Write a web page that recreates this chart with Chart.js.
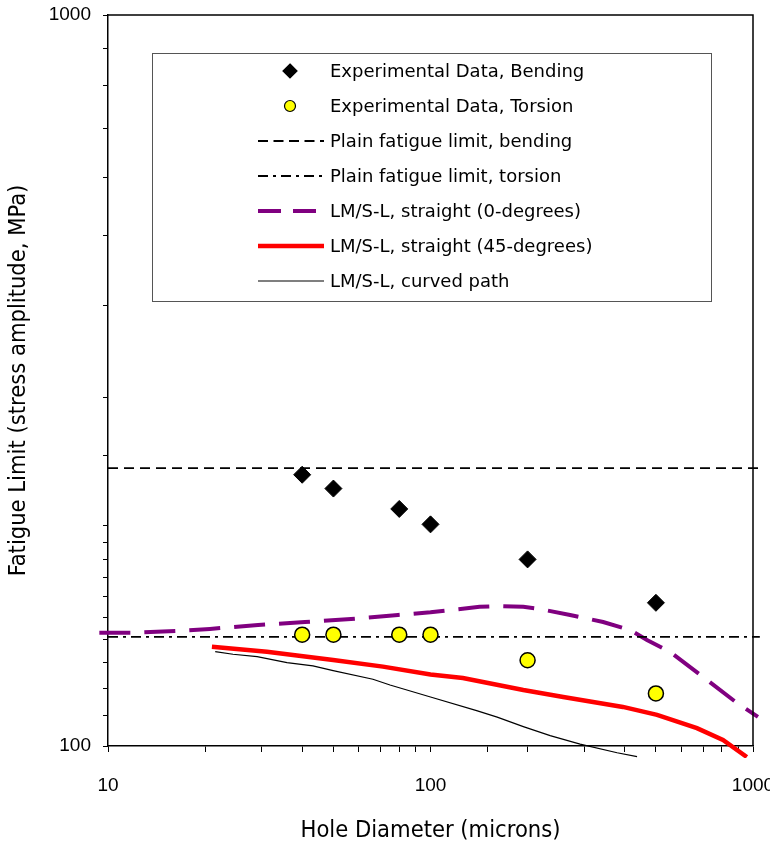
<!DOCTYPE html>
<html>
<head>
<meta charset="utf-8">
<script src="https://cdn.jsdelivr.net/npm/chart.js@4/dist/chart.umd.min.js"></script>
<style>
  html, body { margin: 0; padding: 0; background: #fff; }
  #wrap { width: 770px; height: 845px; position: relative; }
</style>
</head>
<body>
<div id="wrap"><canvas id="chart"></canvas></div>
<script>
// hole diameter (microns) vs fatigue limit (MPa)
const bendX = [40, 50, 80, 100, 200, 500];
const bendY = [235, 225, 211, 201, 180, 157];
const torsX = [40, 50, 80, 100, 200, 500];
const torsY = [142, 142, 142, 142, 131, 118];

const limitX = [10, 1050];
const limitBend = [240, 240];
const limitTors = [141, 141];

const zeroX = [9.4, 12.3, 17.1, 20.7, 29.2, 40.8, 56.7, 79.3, 100, 142, 164, 194, 219, 271, 343, 416, 469, 553, 700, 892, 1036];
const zeroY = [142.9, 142.9, 143.8, 144.6, 146.4, 147.8, 149.2, 151.1, 152.4, 155.0, 155.4, 155.0, 153.9, 151.1, 147.8, 144.1, 139.6, 134.5, 124.3, 114.5, 109.6];

const fortyX = [21.0, 31.1, 49.9, 71.2, 100, 126, 194, 258, 395, 504, 670, 807, 957];
const fortyY = [136.7, 134.6, 131.1, 128.4, 125.3, 123.9, 119.3, 116.7, 113.1, 110.3, 105.8, 101.9, 96.6];

const curvedX = [21.5, 24.4, 29.0, 35.9, 43.2, 49.9, 66.3, 74.9, 100, 139, 161, 194, 235, 291, 379, 437];
const curvedY = [134.6, 133.5, 132.5, 130.0, 128.7, 126.8, 123.4, 121.2, 116.7, 111.8, 109.5, 106.3, 103.3, 100.6, 97.9, 96.7];

const xTickLabels = [10, 100, 1000];
const yTickLabels = [100, 1000];

function pts(xs, ys) {
  return xs.map(function (x, i) { return { x: x, y: ys[i] }; });
}

const overflow = { left: 10, top: 0, right: 12, bottom: 12 };
const titleFont = { family: "DejaVu Sans Condensed", size: 23.5 };
const tickFont = { family: "Liberation Sans", size: 19 };

// legend box drawn inside the plot, like the original
const boxLegend = {
  id: "boxLegend",
  afterDraw: function (chart) {
    const ctx = chart.ctx;
    ctx.save();
    ctx.fillStyle = "#fff";
    ctx.fillRect(152, 53, 560, 249);
    ctx.strokeStyle = "#555";
    ctx.lineWidth = 1;
    ctx.strokeRect(152.5, 53.5, 559, 248);
    ctx.font = "18px 'DejaVu Sans'";
    ctx.textBaseline = "middle";
    chart.data.datasets.forEach(function (ds, i) {
      const y = 71 + i * 35;
      if (ds.showLine === false) {
        ctx.beginPath();
        ctx.fillStyle = ds.backgroundColor;
        ctx.strokeStyle = ds.borderColor;
        ctx.lineWidth = 1.2;
        if (ds.pointStyle === "rectRot") {
          ctx.moveTo(290, y - 7); ctx.lineTo(297, y); ctx.lineTo(290, y + 7); ctx.lineTo(283, y);
          ctx.closePath();
        } else {
          ctx.arc(290, y, 5.5, 0, Math.PI * 2);
        }
        ctx.fill();
        ctx.stroke();
      } else {
        ctx.beginPath();
        ctx.strokeStyle = ds.borderColor;
        ctx.lineWidth = ds.borderWidth;
        ctx.setLineDash(ds.legendDash || []);
        ctx.moveTo(258, y);
        ctx.lineTo(324, y);
        ctx.stroke();
        ctx.setLineDash([]);
      }
      ctx.fillStyle = "#000";
      ctx.fillText(ds.label, 330, y + 1);
    });
    // frame top and right
    const a = chart.chartArea;
    ctx.strokeStyle = "#000";
    ctx.lineWidth = 1.5;
    ctx.beginPath();
    ctx.moveTo(a.left, a.top); ctx.lineTo(a.right, a.top); ctx.lineTo(a.right, a.bottom);
    ctx.stroke();
    ctx.restore();
  }
};

new Chart(document.getElementById("chart"), {
  type: "scatter",
  data: {
    datasets: [
      {
        label: "Experimental Data, Bending",
        data: pts(bendX, bendY),
        showLine: false,
        pointStyle: "rectRot",
        pointRadius: 8.5,
        backgroundColor: "#000",
        borderColor: "#000",
        borderWidth: 1,
        order: 0
      },
      {
        label: "Experimental Data, Torsion",
        data: pts(torsX, torsY),
        showLine: false,
        pointStyle: "circle",
        pointRadius: 7.5,
        backgroundColor: "#ffff00",
        borderColor: "#000",
        borderWidth: 1.5,
        order: 0
      },
      {
        label: "Plain fatigue limit, bending",
        data: pts(limitX, limitBend),
        showLine: true,
        pointRadius: 0,
        borderColor: "#000",
        borderWidth: 1.8,
        borderDash: [10, 6],
        legendDash: [10, 5.5],
        clip: overflow,
        order: 1
      },
      {
        label: "Plain fatigue limit, torsion",
        data: pts(limitX, limitTors),
        showLine: true,
        pointRadius: 0,
        borderColor: "#000",
        borderWidth: 1.8,
        borderDash: [10, 5, 3, 5],
        legendDash: [10, 5, 3, 5],
        clip: overflow,
        order: 1
      },
      {
        label: "LM/S-L, straight (0-degrees)",
        data: pts(zeroX, zeroY),
        showLine: true,
        pointRadius: 0,
        borderColor: "#800080",
        borderWidth: 4,
        borderDash: [31, 14],
        legendDash: [23, 12],
        clip: overflow,
        order: 1
      },
      {
        label: "LM/S-L, straight (45-degrees)",
        data: pts(fortyX, fortyY),
        showLine: true,
        pointRadius: 0,
        borderColor: "#ff0000",
        borderWidth: 4.5,
        clip: overflow,
        order: 1
      },
      {
        label: "LM/S-L, curved path",
        data: pts(curvedX, curvedY),
        showLine: true,
        pointRadius: 0,
        borderColor: "#000",
        borderWidth: 1.2,
        clip: overflow,
        order: 1
      }
    ]
  },
  options: {
    responsive: true,
    maintainAspectRatio: false,
    animation: false,
    layout: { padding: { left: 0, top: 15, right: 17, bottom: 0 } },
    plugins: {
      legend: { display: false },
      tooltip: { enabled: false }
    },
    scales: {
      x: {
        type: "logarithmic",
        min: 10,
        max: 1000,
        afterFit: function (scale) {
          scale.height = 99;
          scale.paddingLeft = 0;
          scale.paddingRight = 0;
        },
        border: { display: true, color: "#000", width: 1.5 },
        grid: { display: true, drawOnChartArea: false, drawTicks: true, tickLength: 6, color: "#000", lineWidth: 1 },
        ticks: {
          autoSkip: false,
          maxRotation: 0,
          padding: 22,
          color: "#000",
          font: tickFont,
          callback: function (v) { return xTickLabels.indexOf(v) >= 0 ? String(v) : ""; }
        },
        title: { display: true, text: "Hole Diameter (microns)", color: "#000", font: titleFont, padding: { top: 0, bottom: 0 } }
      },
      y: {
        type: "logarithmic",
        min: 100,
        max: 1000,
        afterFit: function (scale) {
          scale.width = 108;
          scale.paddingTop = 0;
          scale.paddingBottom = 0;
        },
        border: { display: true, color: "#000", width: 1.5 },
        grid: { display: true, drawOnChartArea: false, drawTicks: true, tickLength: 5, color: "#000", lineWidth: 1 },
        ticks: {
          autoSkip: false,
          padding: 12,
          color: "#000",
          font: tickFont,
          callback: function (v) { return yTickLabels.indexOf(v) >= 0 ? String(v) : ""; }
        },
        title: { display: true, text: "Fatigue Limit (stress amplitude, MPa)", color: "#000", font: titleFont, padding: { top: 5, bottom: 0 } }
      }
    }
  },
  plugins: [boxLegend]
});
</script>
</body>
</html>
